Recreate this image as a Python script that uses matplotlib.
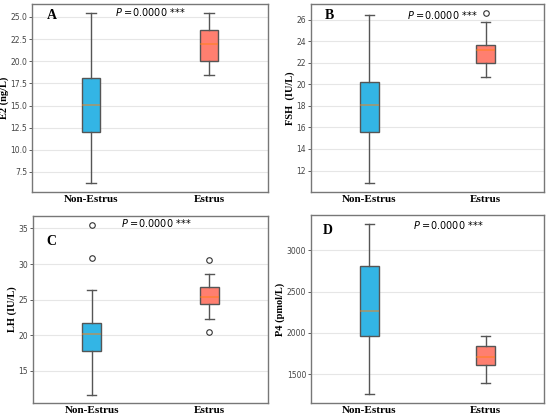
import matplotlib
matplotlib.use("Agg")
import matplotlib.pyplot as plt

groups = ["Non-Estrus", "Estrus"]

# box stats: whislo, q1, med, q3, whishi, fliers
e2_non = [6.2, 12.0, 15.1, 18.1, 25.4, []]
e2_est = [18.5, 20.0, 21.9, 23.5, 25.5, []]
fsh_non = [10.8, 15.6, 18.1, 20.2, 26.4, []]
fsh_est = [20.7, 22.0, 23.2, 23.6, 25.8, [26.65]]
lh_non = [11.7, 17.8, 20.25, 21.75, 26.4, [35.55, 30.8]]
lh_est = [22.3, 24.4, 25.4, 26.8, 28.55, [30.6, 20.5]]
p4_non = [1255, 1965, 2262, 2808, 3326, []]
p4_est = [1390, 1614, 1708, 1843, 1965, []]

ylabels = ["E2 (ng/L)", "FSH  (IU/L)", "LH (IU/L)", "P4 (pmol/L)"]
letters = ["A", "B", "C", "D"]
p_text = "0.0000"

colors = ["#33B5E5", "#FF7F70"]
serif = ["Liberation Serif", "DejaVu Serif"]


def stats(vals, label):
    lo, q1, med, q3, hi, fl = vals
    return dict(whislo=lo, q1=q1, med=med, q3=q3, whishi=hi, fliers=fl, label=label)


panels = [(e2_non, e2_est), (fsh_non, fsh_est), (lh_non, lh_est), (p4_non, p4_est)]
# axes rectangles in figure pixels (left, top, right, bottom)
rects = [(32, 4, 268, 192), (311, 4, 544, 192), (33, 216, 268, 403), (311, 215, 544, 403)]
p_pos = [(0.50, 0.957), (0.562, 0.94), (0.523, 0.964), (0.588, 0.947)]
l_pos = [(0.085, 0.94), (0.08, 0.94), (0.08, 0.866), (0.073, 0.915)]
yticks = [[7.5, 10.0, 12.5, 15.0, 17.5, 20.0, 22.5, 25.0],
          [12, 14, 16, 18, 20, 22, 24, 26],
          [15, 20, 25, 30, 35],
          [1500, 2000, 2500, 3000]]

W, H = 550, 419
fig = plt.figure(figsize=(W / 100, H / 100), dpi=100)

for i, (non, est) in enumerate(panels):
    l, t, r, b = rects[i]
    ax = fig.add_axes([l / W, 1 - b / H, (r - l) / W, (b - t) / H])
    bp = ax.bxp([stats(non, groups[0]), stats(est, groups[1])], positions=[1, 2],
                widths=0.16, patch_artist=True,
                boxprops=dict(edgecolor="#555555", linewidth=1.0),
                whiskerprops=dict(color="#555555", linewidth=1.0),
                capprops=dict(color="#555555", linewidth=1.0),
                medianprops=dict(color="#ff7f0e", linewidth=1.2, alpha=0.55),
                flierprops=dict(marker="o", markersize=4, markerfacecolor="none",
                                markeredgecolor="#333333", markeredgewidth=0.8))
    for patch, c in zip(bp["boxes"], colors):
        patch.set_facecolor(c)
    ax.set_yticks(yticks[i])
    if i == 0:
        ax.set_yticklabels([f"{v:.1f}" for v in yticks[i]])
    ax.grid(axis="y", color="#e6e6e6", linewidth=0.8)
    ax.set_axisbelow(True)
    ax.tick_params(axis="y", labelsize=5.5, colors="#444444", length=2, width=0.6, pad=1.5)
    ax.tick_params(axis="x", length=0, pad=2)
    for lab in ax.get_xticklabels():
        lab.set_fontfamily(serif)
        lab.set_fontweight("bold")
        lab.set_fontsize(8)
    for s in ax.spines.values():
        s.set_color("#777777")
        s.set_linewidth(1.0)
    ax.set_ylabel(ylabels[i], fontfamily=serif, fontweight="bold", fontsize=7.5, labelpad=1)
    ax.text(*l_pos[i], letters[i], transform=ax.transAxes, fontfamily=serif,
            fontweight="bold", fontsize=10, ha="center", va="center")
    ax.text(*p_pos[i], r"$\it{P}$ =" + p_text + " ***", transform=ax.transAxes,
            fontsize=7, ha="center", va="center")

fig.savefig("out.png", dpi=100)
